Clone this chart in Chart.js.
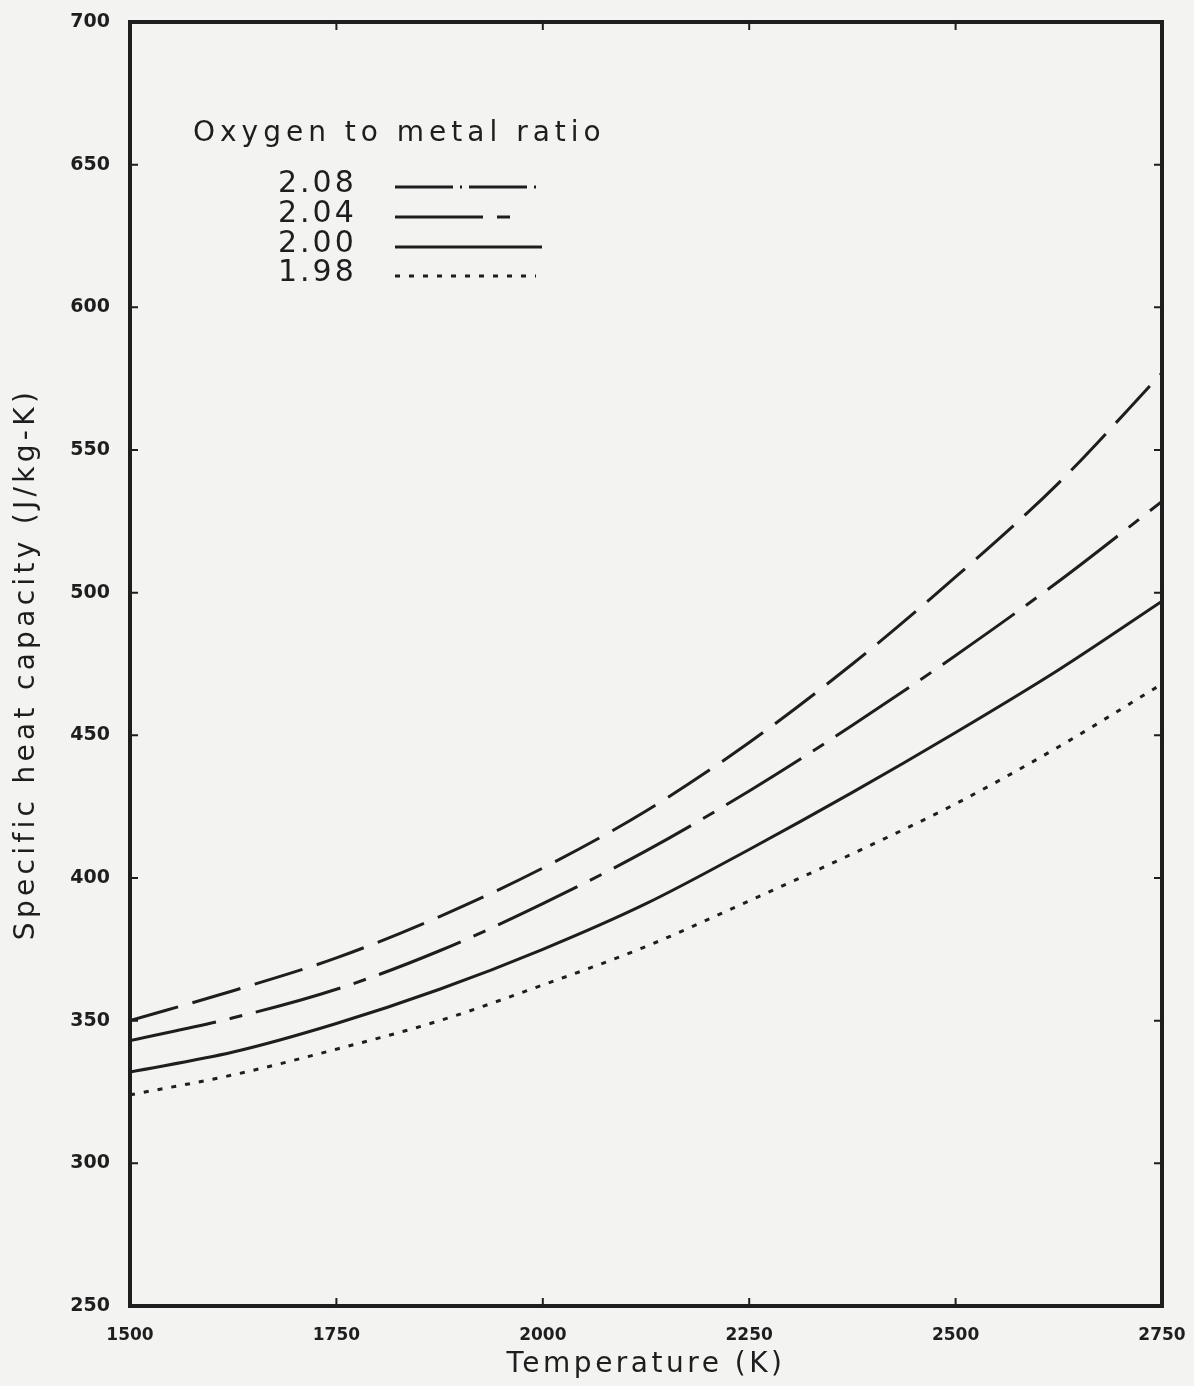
<!DOCTYPE html>
<html>
<head>
<meta charset="utf-8">
<script src="https://cdn.jsdelivr.net/npm/chart.js@4.4.1/dist/chart.umd.min.js"></script>
<style>
  html, body { margin: 0; padding: 0; background: #f3f3f2; }
  #wrap { width: 1194px; height: 1386px; }
</style>
</head>
<body>
<div id="wrap"><canvas id="c" width="1194" height="1386"></canvas></div>
<script>
// ---- data ----
const temperatures = [1500, 1625, 1750, 1875, 2000, 2125, 2250, 2375, 2500, 2625, 2750];
const cp208 = [350, 360.5, 372, 386.5, 403.5, 423.5, 447.5, 475, 505.5, 538.5, 577];
const cp204 = [343, 351, 361, 374.5, 391, 409.5, 430.5, 453.5, 478, 504, 532];
const cp200 = [332, 339, 349, 361, 375, 391, 410, 430, 451, 473, 497];
const cp198 = [324, 331, 340, 350, 362.5, 376, 392, 408.5, 426, 446, 468];
const ratioLabels = ['2.08', '2.04', '2.00', '1.98'];
const legendTitle = 'Oxygen to metal ratio';
const xTickValues = [1500, 1750, 2000, 2250, 2500, 2750];
const yTickValues = [250, 300, 350, 400, 450, 500, 550, 600, 650, 700];
const xTitle = 'Temperature (K)';
const yTitle = 'Specific heat capacity (J/kg-K)';

const INK = '#1e1e1e';
const dashes = [[50, 15], [88, 14, 13, 14], [], [5, 9]];
const legendDashes = [[58, 7, 2, 7], [88, 14, 13, 14], [], [5, 9]];
const seriesValues = [cp208, cp204, cp200, cp198];

const datasets = seriesValues.map((vals, i) => ({
  label: ratioLabels[i],
  data: temperatures.map((t, k) => ({ x: t, y: vals[k] })),
  borderColor: INK,
  borderWidth: 3,
  borderDash: dashes[i],
  borderCapStyle: 'butt',
  pointRadius: 0,
  fill: false,
  cubicInterpolationMode: 'monotone'
}));

function spacedTitle(scale, spacing) {
  if (scale._spacedPatched) return;
  const orig = scale.drawTitle;
  scale.drawTitle = function () {
    const ctx = this.ctx;
    ctx.save();
    ctx.letterSpacing = spacing;
    orig.apply(this, arguments);
    ctx.restore();
  };
  scale._spacedPatched = true;
}

const framePlugin = {
  id: 'frame',
  beforeDraw(chart) {
    const ctx = chart.ctx;
    ctx.save();
    ctx.fillStyle = '#f3f3f2';
    ctx.fillRect(0, 0, chart.width, chart.height);
    ctx.restore();
    spacedTitle(chart.scales.x, '3.5px');
    spacedTitle(chart.scales.y, '4.3px');
  },
  afterDraw(chart) {
    const { ctx, chartArea: a, scales } = chart;
    ctx.save();
    // box
    ctx.strokeStyle = INK;
    ctx.lineWidth = 4;
    ctx.strokeRect(a.left, a.top, a.right - a.left, a.bottom - a.top);
    // inward ticks
    ctx.lineWidth = 2;
    const tl = 8;
    scales.x.ticks.forEach(t => {
      const px = scales.x.getPixelForValue(t.value);
      ctx.beginPath();
      ctx.moveTo(px, a.bottom); ctx.lineTo(px, a.bottom - tl);
      ctx.moveTo(px, a.top); ctx.lineTo(px, a.top + tl);
      ctx.stroke();
    });
    scales.y.ticks.forEach(t => {
      const py = scales.y.getPixelForValue(t.value);
      ctx.beginPath();
      ctx.moveTo(a.left, py); ctx.lineTo(a.left + tl, py);
      ctx.moveTo(a.right, py); ctx.lineTo(a.right - tl, py);
      ctx.stroke();
    });
    // legend
    ctx.fillStyle = INK;
    ctx.textBaseline = 'middle';
    ctx.textAlign = 'left';
    ctx.letterSpacing = '5px';
    ctx.font = '28px "DejaVu Sans"';
    ctx.fillText(legendTitle, 193, 134);
    ctx.letterSpacing = '3px';
    ctx.font = '30px "DejaVu Sans"';
    const rowY = [184, 214, 244, 273];
    const lineEnd = [536, 522, 542, 536];
    chart.data.datasets.forEach((ds, i) => {
      ctx.fillText(ds.label, 278, rowY[i]);
      ctx.beginPath();
      ctx.setLineDash(legendDashes[i]);
      ctx.lineWidth = 3;
      ctx.moveTo(395, rowY[i] + 3);
      ctx.lineTo(lineEnd[i], rowY[i] + 3);
      ctx.stroke();
    });
    ctx.setLineDash([]);
    ctx.restore();
  }
};

new Chart(document.getElementById('c'), {
  type: 'line',
  data: { datasets },
  plugins: [framePlugin],
  options: {
    responsive: false,
    animation: false,
    devicePixelRatio: 1,
    layout: { padding: { top: 22, right: 32, left: 0, bottom: 0 } },
    plugins: { legend: { display: false }, tooltip: { enabled: false } },
    scales: {
      x: {
        type: 'linear',
        min: 1500, max: 2750,
        afterBuildTicks: s => { s.ticks = xTickValues.map(v => ({ value: v })); },
        afterFit: s => { s.height = 80; s.paddingLeft = 0; s.paddingRight = 0; },
        grid: { display: false, drawTicks: false },
        border: { display: false },
        ticks: { color: INK, font: { family: 'DejaVu Sans', size: 17, weight: 'bold' }, padding: 19, maxRotation: 0, callback: v => String(v) },
        title: { display: true, text: xTitle, color: INK, font: { family: 'DejaVu Sans', size: 28 }, padding: { top: 0, bottom: 4 } }
      },
      y: {
        type: 'linear',
        min: 250, max: 700,
        afterBuildTicks: s => { s.ticks = yTickValues.map(v => ({ value: v })); },
        afterFit: s => { s.width = 130; s.paddingTop = 0; s.paddingBottom = 0; },
        grid: { display: false, drawTicks: false },
        border: { display: false },
        ticks: { color: INK, font: { family: 'DejaVu Sans', size: 19, weight: 'bold' }, padding: 20, callback: v => String(v) },
        title: { display: true, text: yTitle, color: INK, font: { family: 'DejaVu Sans', size: 28 }, padding: { top: 10, bottom: 0 } }
      }
    }
  }
});
</script>
</body>
</html>
